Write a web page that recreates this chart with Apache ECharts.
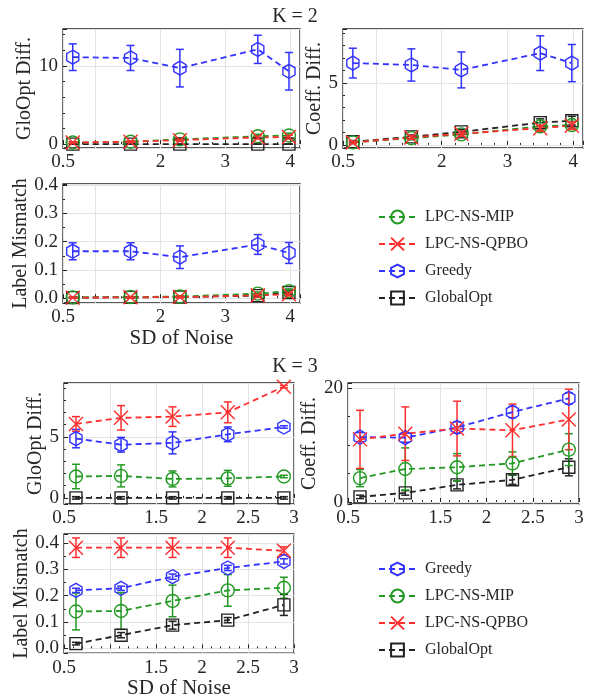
<!DOCTYPE html>
<html>
<head>
<meta charset="utf-8">
<script src="https://cdn.jsdelivr.net/npm/echarts@6/dist/echarts.min.js"></script>
<style>
    html, body { margin: 0; background: #fff; }
    #chart { width: 590px; height: 700px; }
</style>
</head>
<body>
<div id="chart"></div>
<script>
    // noise levels (x) for each K
    const xK2 = [0.65, 1.54, 2.3, 3.5, 3.98];
    const xK3 = [0.63, 1.12, 1.68, 2.28, 2.89];

    // tick labels shown on the axes
    const xLabelsK2 = [0.5, 2, 3, 4];
    const xLabelsK3 = [0.5, 1.5, 2, 2.5, 3];

    // K = 2, GloOpt Diff.
    const glo2Greedy = [11.1, 11.0, 9.7, 12.1, 9.3];
    const glo2GreedyErr = [1.7, 1.6, 2.4, 1.8, 2.4];
    const glo2Mip = [0.2, 0.3, 0.6, 1.0, 1.1];
    const glo2MipErr = [0.1, 0.1, 0.2, 0.25, 0.3];
    const glo2Qpbo = [0.2, 0.3, 0.5, 0.85, 0.9];
    const glo2QpboErr = [0.1, 0.1, 0.15, 0.2, 0.25];
    const glo2Global = [0, 0, 0, 0, 0];
    const glo2GlobalErr = [0, 0, 0, 0, 0];

    // K = 2, Coeff. Diff.
    const co2Greedy = [6.6, 6.45, 6.05, 7.4, 6.6];
    const co2GreedyErr = [1.2, 1.3, 1.45, 1.4, 1.5];
    const co2Mip = [0.2, 0.55, 0.85, 1.5, 1.6];
    const co2MipErr = [0.1, 0.15, 0.2, 0.3, 0.3];
    const co2Qpbo = [0.2, 0.6, 0.9, 1.35, 1.55];
    const co2QpboErr = [0.1, 0.15, 0.2, 0.25, 0.3];
    const co2Global = [0.25, 0.65, 1.05, 1.8, 1.95];
    const co2GlobalErr = [0.1, 0.15, 0.2, 0.3, 0.35];

    // K = 2, Label Mismatch
    const lm2Greedy = [0.166, 0.166, 0.145, 0.19, 0.16];
    const lm2GreedyErr = [0.03, 0.03, 0.04, 0.035, 0.037];
    const lm2Mip = [0.003, 0.004, 0.006, 0.016, 0.025];
    const lm2MipErr = [0.002, 0.002, 0.003, 0.006, 0.008];
    const lm2Qpbo = [0.002, 0.003, 0.004, 0.01, 0.014];
    const lm2QpboErr = [0.001, 0.002, 0.002, 0.005, 0.006];
    const lm2Global = [0.002, 0.003, 0.004, 0.009, 0.02];
    const lm2GlobalErr = [0.001, 0.002, 0.002, 0.005, 0.008];

    // K = 3, GloOpt Diff.
    const glo3Greedy = [4.85, 4.35, 4.5, 5.2, 5.8];
    const glo3GreedyErr = [0.75, 0.6, 0.9, 0.6, 0.1];
    const glo3Mip = [1.75, 1.8, 1.55, 1.6, 1.75];
    const glo3MipErr = [1.0, 0.9, 0.65, 0.65, 0.1];
    const glo3Qpbo = [6.05, 6.55, 6.65, 7.0, 9.1];
    const glo3QpboErr = [0.6, 1.0, 0.8, 0.85, 0.1];
    const glo3Global = [0, 0, 0, 0, 0];
    const glo3GlobalErr = [0.1, 0.1, 0.1, 0.1, 0.1];

    // K = 3, Coeff. Diff.
    const co3Greedy = [11.4, 11.3, 13.1, 15.8, 18.2];
    const co3GreedyErr = [0.8, 0.8, 1.0, 1.0, 1.0];
    const co3Mip = [4.2, 5.8, 6.1, 6.8, 9.2];
    const co3MipErr = [1.5, 3.7, 2.4, 2.0, 2.8];
    const co3Qpbo = [11.0, 12.0, 12.9, 12.6, 14.5];
    const co3QpboErr = [5.1, 4.7, 4.8, 4.6, 5.3];
    const co3Global = [0.9, 1.6, 3.0, 3.9, 6.1];
    const co3GlobalErr = [0.3, 0.4, 0.7, 0.8, 1.5];

    // K = 3, Label Mismatch
    const lm3Greedy = [0.22, 0.228, 0.272, 0.305, 0.33];
    const lm3GreedyErr = [0.008, 0.008, 0.01, 0.01, 0.01];
    const lm3Mip = [0.14, 0.142, 0.18, 0.22, 0.23];
    const lm3MipErr = [0.07, 0.07, 0.06, 0.06, 0.04];
    const lm3Qpbo = [0.382, 0.382, 0.382, 0.382, 0.37];
    const lm3QpboErr = [0.037, 0.037, 0.037, 0.037, 0.015];
    const lm3Global = [0.018, 0.05, 0.088, 0.107, 0.165];
    const lm3GlobalErr = [0.005, 0.01, 0.015, 0.01, 0.04];

    const FONT = 'Liberation Serif';
    const TXT = '#262626';

    const methods = {
        global: { name: 'GlobalOpt', color: '#222222', symbol: 'rect', size: 12 },
        mip: { name: 'LPC-NS-MIP', color: '#229922', symbol: 'circle', size: 13 },
        greedy: { name: 'Greedy', color: '#3333ff',
            symbol: 'path://M0,-1L0.866,-0.5L0.866,0.5L0,1L-0.866,0.5L-0.866,-0.5Z', size: 14 },
        qpbo: { name: 'LPC-NS-QPBO', color: '#ff2e2e', symbol: 'path://M0,0L1,1M1,0L0,1', size: 14 }
    };

    // grid boxes: left, top, width, height
    const grids = [
        { left: 63, top: 29, width: 237, height: 119 },
        { left: 343, top: 29, width: 240, height: 119 },
        { left: 63, top: 184, width: 237, height: 119 },
        { left: 64, top: 383, width: 230, height: 121 },
        { left: 348, top: 383, width: 231, height: 121 },
        { left: 64, top: 534, width: 230, height: 123 }
    ];

    const panels = [
        { x: xK2, xmax: 4.15, xstep: 1, xlabels: xLabelsK2, ymin: -0.5, ymax: 14.7, ystep: 10, yminor: 5,
          yname: 'GloOpt Diff.', ygap: 23, fmt: v => String(v),
          sets: { global: [glo2Global, glo2GlobalErr], mip: [glo2Mip, glo2MipErr],
                  greedy: [glo2Greedy, glo2GreedyErr], qpbo: [glo2Qpbo, glo2QpboErr] } },
        { x: xK2, xmax: 4.15, xstep: 1, xlabels: xLabelsK2, ymin: -0.25, ymax: 9.35, ystep: 5, yminor: 5,
          yname: 'Coeff. Diff.', ygap: 12, fmt: v => String(v),
          sets: { global: [co2Global, co2GlobalErr], mip: [co2Mip, co2MipErr],
                  greedy: [co2Greedy, co2GreedyErr], qpbo: [co2Qpbo, co2QpboErr] } },
        { x: xK2, xmax: 4.15, xstep: 1, xlabels: xLabelsK2, ymin: -0.017, ymax: 0.404, ystep: 0.1, yminor: 2,
          yname: 'Label Mismatch', ygap: 21, xname: 'SD of Noise', xgap: 25, fmt: v => v.toFixed(1),
          sets: { global: [lm2Global, lm2GlobalErr], mip: [lm2Mip, lm2MipErr],
                  greedy: [lm2Greedy, lm2GreedyErr], qpbo: [lm2Qpbo, lm2QpboErr] } },
        { x: xK3, xmax: 3, xstep: 0.5, xlabels: xLabelsK3, ymin: -0.5, ymax: 9.4, ystep: 5, yminor: 5,
          yname: 'GloOpt Diff.', ygap: 13, fmt: v => String(v),
          sets: { global: [glo3Global, glo3GlobalErr], mip: [glo3Mip, glo3MipErr],
                  greedy: [glo3Greedy, glo3GreedyErr], qpbo: [glo3Qpbo, glo3QpboErr] } },
        { x: xK3, xmax: 3, xstep: 0.5, xlabels: xLabelsK3, ymin: -0.35, ymax: 20.9, ystep: 20, yminor: 4,
          yname: 'Coeff. Diff.', ygap: 22, fmt: v => String(v),
          sets: { global: [co3Global, co3GlobalErr], mip: [co3Mip, co3MipErr],
                  greedy: [co3Greedy, co3GreedyErr], qpbo: [co3Qpbo, co3QpboErr] } },
        { x: xK3, xmax: 3, xstep: 0.5, xlabels: xLabelsK3, ymin: -0.018, ymax: 0.434, ystep: 0.1, yminor: 2,
          yname: 'Label Mismatch', ygap: 22, xname: 'SD of Noise', xgap: 24, fmt: v => v.toFixed(1),
          sets: { global: [lm3Global, lm3GlobalErr], mip: [lm3Mip, lm3MipErr],
                  greedy: [lm3Greedy, lm3GreedyErr], qpbo: [lm3Qpbo, lm3QpboErr] } }
    ];

    function isTick(v, list) {
        return list.some(t => Math.abs(t - v) < 1e-6);
    }

    function errorBar(params, api) {
        let x = api.value(0);
        let lo = api.coord([x, api.value(1)]);
        let hi = api.coord([x, api.value(2)]);
        let w = 4;
        let style = { stroke: api.visual('color'), lineWidth: 1.5 };
        return {
            type: 'group',
            children: [
                { type: 'line', shape: { x1: lo[0], y1: lo[1], x2: hi[0], y2: hi[1] }, style: style },
                { type: 'line', shape: { x1: lo[0] - w, y1: lo[1], x2: lo[0] + w, y2: lo[1] }, style: style },
                { type: 'line', shape: { x1: hi[0] - w, y1: hi[1], x2: hi[0] + w, y2: hi[1] }, style: style }
            ]
        };
    }

    let xAxes = [], yAxes = [], series = [];

    panels.forEach((p, i) => {
        let tickStyle = { show: true, inside: true, length: 4, lineStyle: { color: '#222' } };
        let minorStyle = { show: true, length: 2, lineStyle: { color: '#222' } };
        xAxes.push({
            type: 'value', gridIndex: i, min: 0.5, max: p.xmax,
            minInterval: p.xstep, maxInterval: p.xstep,
            axisLine: { show: false },
            axisTick: tickStyle,
            minorTick: Object.assign({ splitNumber: 5 }, minorStyle),
            splitLine: { show: true, lineStyle: { color: '#e4e4e4', width: 1 } },
            axisLabel: {
                showMinLabel: true, showMaxLabel: true, margin: 5,
                fontFamily: FONT, fontSize: 19, color: TXT,
                formatter: v => isTick(v, p.xlabels) ? String(v) : ''
            },
            name: p.xname || '', nameLocation: 'middle', nameGap: p.xgap || 25,
            nameTextStyle: { fontFamily: FONT, fontSize: 21, color: TXT }
        });
        yAxes.push({
            type: 'value', gridIndex: i, min: p.ymin, max: p.ymax,
            minInterval: p.ystep, maxInterval: p.ystep,
            axisLine: { show: false },
            axisTick: tickStyle,
            minorTick: Object.assign({ splitNumber: p.yminor }, minorStyle),
            splitLine: { show: true, lineStyle: { color: '#e4e4e4', width: 1 } },
            axisLabel: {
                margin: 5, fontFamily: FONT, fontSize: 19, color: TXT,
                formatter: v => (v >= -1e-9 && Math.abs(v / p.ystep - Math.round(v / p.ystep)) < 1e-6) ? p.fmt(v) : ''
            },
            name: p.yname, nameLocation: 'middle', nameGap: p.ygap,
            nameTextStyle: { fontFamily: FONT, fontSize: 20, color: TXT }
        });

        Object.keys(p.sets).forEach(key => {
            let m = methods[key];
            let vals = p.sets[key][0];
            let errs = p.sets[key][1];
            series.push({
                type: 'custom', xAxisIndex: i, yAxisIndex: i, silent: true,
                itemStyle: { color: m.color },
                renderItem: errorBar,
                encode: { x: 0, y: [1, 2] },
                data: p.x.map((x, k) => [x, vals[k] - errs[k], vals[k] + errs[k]]),
                z: 2
            });
            series.push({
                type: 'line', name: m.name, xAxisIndex: i, yAxisIndex: i,
                color: m.color,
                symbol: m.symbol, symbolSize: m.size, symbolKeepAspect: true,
                showAllSymbol: true,
                lineStyle: { color: m.color, width: 1.8, type: [6, 4] },
                itemStyle: { color: 'rgba(0,0,0,0)', borderColor: m.color, borderWidth: 1.4 },
                data: p.x.map((x, k) => [x, vals[k]]),
                z: 3
            });
        });
    });

    let legendBase = {
        orient: 'vertical', left: 373, itemWidth: 37, itemHeight: 16, itemGap: 11,
        selectedMode: false,
        textStyle: { fontFamily: FONT, fontSize: 16, color: TXT, padding: [0, 0, 0, 4] }
    };

    let chart = echarts.init(document.getElementById('chart'));
    chart.setOption({
        animation: false,
        backgroundColor: '#fff',
        title: [
            { text: 'K = 2', left: 'center', top: 2, textStyle: { fontFamily: FONT, fontSize: 20, fontWeight: 'normal', color: TXT } },
            { text: 'K = 3', left: 'center', top: 352, textStyle: { fontFamily: FONT, fontSize: 20, fontWeight: 'normal', color: TXT } }
        ],
        grid: grids.map(g => Object.assign({ show: true, borderColor: '#222', borderWidth: 1.3, backgroundColor: 'transparent' }, g)),
        legend: [
            Object.assign({ top: 204, data: ['LPC-NS-MIP', 'LPC-NS-QPBO', 'Greedy', 'GlobalOpt'] }, legendBase),
            Object.assign({ top: 556, data: ['Greedy', 'LPC-NS-MIP', 'LPC-NS-QPBO', 'GlobalOpt'] }, legendBase)
        ],
        xAxis: xAxes,
        yAxis: yAxes,
        series: series
    });
</script>
</body>
</html>
